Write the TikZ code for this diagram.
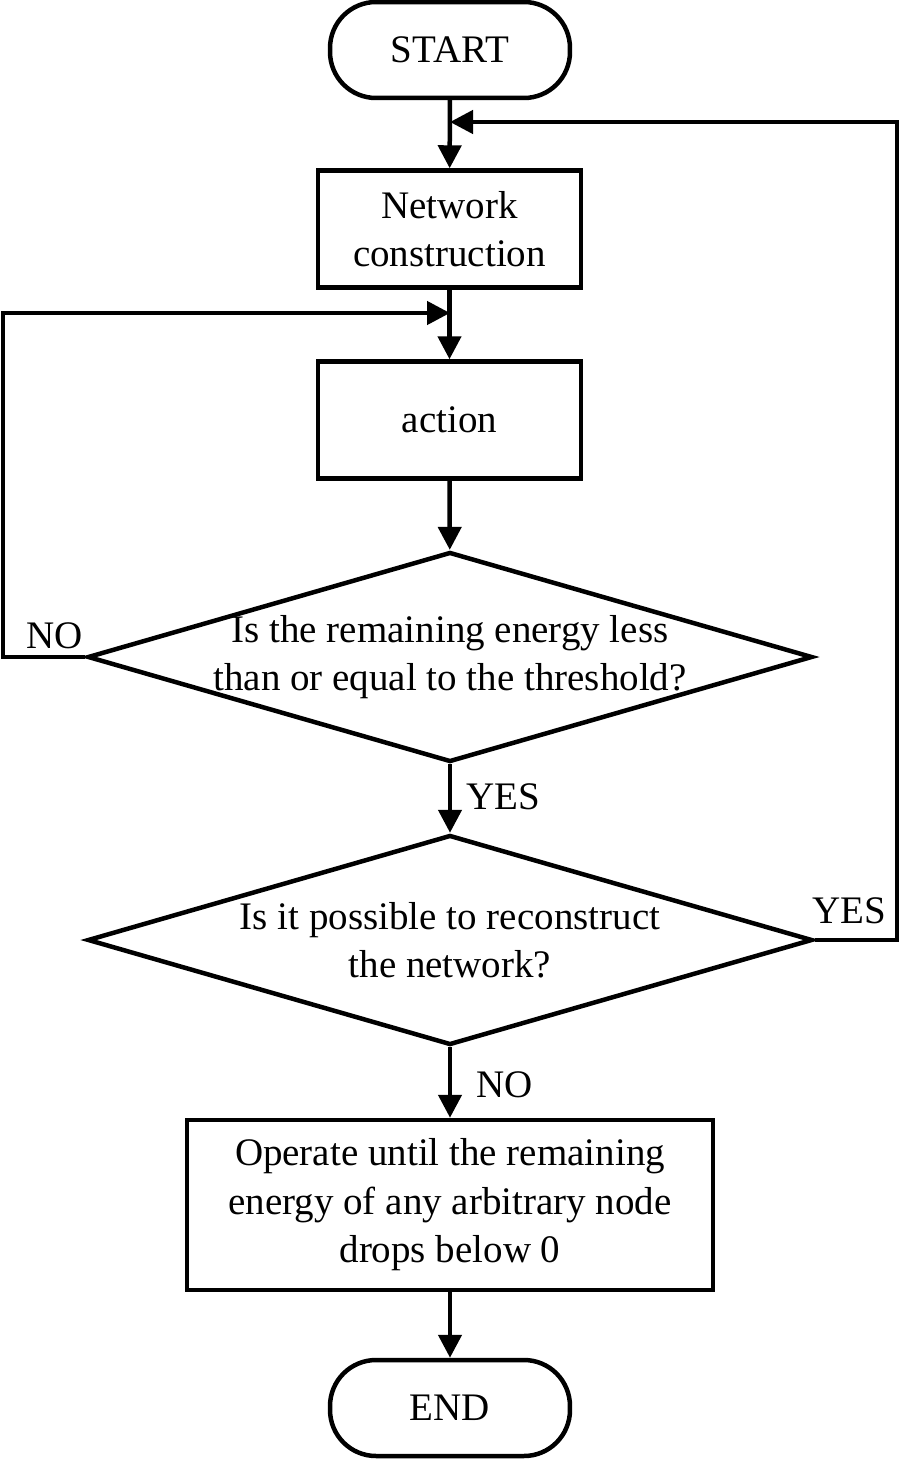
\documentclass[tikz,border=0pt]{standalone}
\usepackage{fontspec}
\setmainfont{Liberation Serif}
\usetikzlibrary{shapes.geometric,arrows.meta}

\begin{document}
\begin{tikzpicture}[x=0.02cm, y=-0.02cm, line width=0.09cm,
  >={Triangle[length=0.46cm,width=0.46cm]},
  every node/.style={font=\fontsize{22.2pt}{27.6pt}\selectfont},
  term/.style={draw, rectangle, rounded corners=0.92cm,
    minimum width=4.8cm, minimum height=1.92cm, inner sep=0pt},
  proc/.style={draw, rectangle, minimum width=5.26cm, minimum height=2.34cm,
    inner sep=0pt, align=center},
  decision/.style={draw, diamond, minimum width=14.5cm, minimum height=4.2cm,
    inner sep=0pt},
  lbl/.style={inner sep=0pt}]
\useasboundingbox (0,0) rectangle (899,1460);
\node [term] (start) at (450,50) {START};
\node [proc] (net) at (449.5,229) {Network\\construction};
\node [proc] (act) at (449.5,420) {action};
\node [decision, label={[align=center]center:{Is the remaining energy less\\than or equal to the threshold?}}] (d1) at (450,657) {};
\node [decision, label={[align=center]center:{Is it possible to reconstruct\\the network?}}] (d2) at (450,940) {};
\node [proc, minimum width=10.52cm, minimum height=3.4cm] (op) at (450,1205) {Operate until the remaining\\energy of any arbitrary node\\drops below 0};
\node [term] (stop) at (450,1408) {END};
\coordinate (j1) at (450,313);
\coordinate (j2) at (450,122);
\coordinate (nol) at (3,313);
\coordinate (yesr) at (897,122);
\draw [->] (start) -- (net);
\draw [->] (net) -- (act);
\draw [->] (act) -- (d1);
\draw [->] (d1) -- (d2);
\draw [->] (d2) -- (op);
\draw [->] (op) -- (stop);
\draw [->] (d1.west) -| (nol) -- (j1);
\draw [->] (d2.east) -| (yesr) -- (j2);
\node [lbl] (no1) at (55,636) {NO};
\node [lbl] (yes1) at (503,797) {YES};
\node [lbl] (yes2) at (849,911) {YES};
\node [lbl] (no2) at (505,1085) {NO};
\end{tikzpicture}
\end{document}
